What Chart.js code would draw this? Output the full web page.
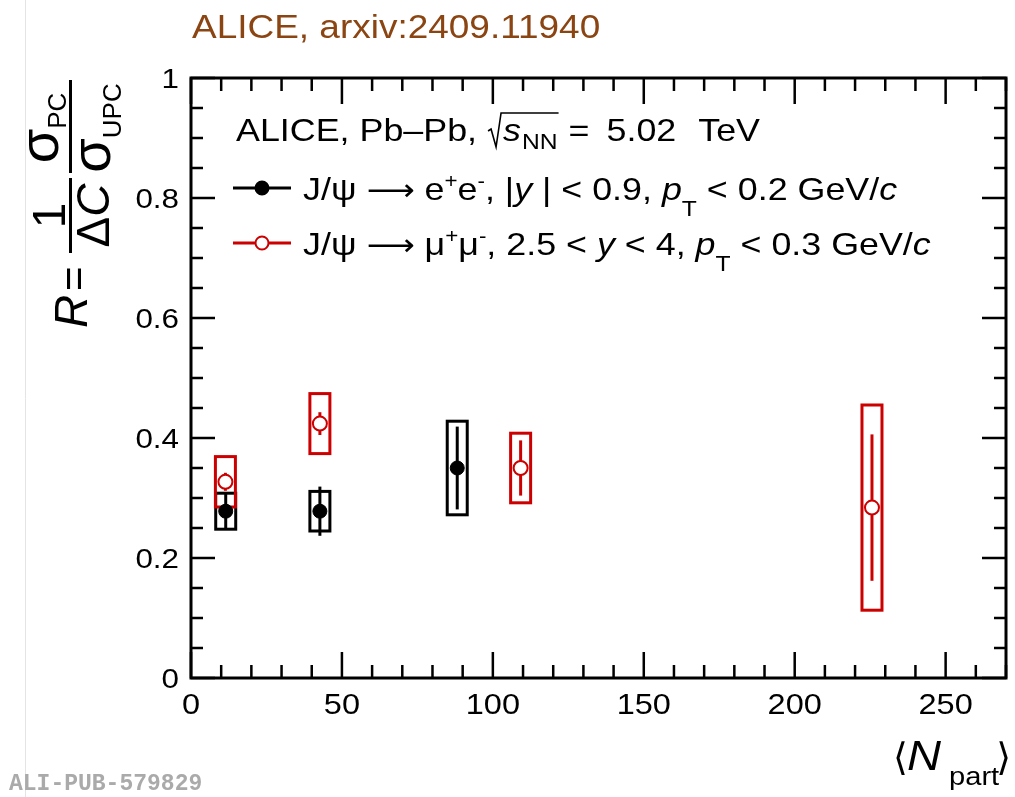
<!DOCTYPE html>
<html>
<head>
<meta charset="utf-8">
<script src="https://cdn.jsdelivr.net/npm/chart.js@4.4.1/dist/chart.umd.min.js"></script>
<style>
    html, body { margin: 0; padding: 0; background: #fff; }
    #wrap { position: relative; width: 1015px; height: 797px; }
</style>
</head>
<body>
<div id="wrap"><canvas id="chart" width="1015" height="797"></canvas></div>
<script>
// J/psi -> e+e-, |y| < 0.9
const eeNpart = [11.5, 42.7, 88.2];
const eeR = [0.278, 0.278, 0.350];
const eeStat = [0.030, 0.041, 0.069];
const eeSyst = [0.030, 0.033, 0.078];

// J/psi -> mu+mu-, 2.5 < y < 4
const mmNpart = [11.4, 42.7, 109.2, 225.6];
const mmR = [0.327, 0.424, 0.350, 0.284];
const mmStat = [0.015, 0.019, 0.046, 0.122];
const mmSyst = [0.042, 0.050, 0.058, 0.171];

// axis ticks
const xTickVals = [0, 50, 100, 150, 200, 250];
const xTickLabels = ['0', '50', '100', '150', '200', '250'];
const yTickVals = [0, 0.2, 0.4, 0.6, 0.8, 1];
const yTickLabels = ['0', '0.2', '0.4', '0.6', '0.8', '1'];

const FONT = '"Liberation Sans", Arial, Helvetica, sans-serif';
const RED = '#cc0000';
const BROWN = '#8b4513';
const SX = 1.12;   // the picture's text is a bit wider than plain Helvetica

// text with a small horizontal stretch
function sText(ctx, text, x, y, align) {
    const w = ctx.measureText(text).width * SX;
    let x0 = x;
    if (align === 'center') x0 = x - w / 2;
    if (align === 'right') x0 = x - w;
    ctx.save();
    ctx.translate(x0, y);
    ctx.scale(SX, 1);
    ctx.textAlign = 'left';
    ctx.fillText(text, 0, 0);
    ctx.restore();
    return w;
}

// draw a row of text pieces (normal / italic / sub / sup) starting at x
function drawRuns(ctx, x, y, runs) {
    let cx = x;
    runs.forEach(r => {
        ctx.font = (r.it ? 'italic ' : '') + r.size + 'px ' + (r.fam || FONT);
        cx += sText(ctx, r.t, cx, y + (r.dy || 0)) + (r.gap || 0);
    });
    return cx;
}

// text rotated by -90deg: baseline at screen x = xb, text starts at screen y = yStart and runs upward
function rotText(ctx, text, font, xb, yStart) {
    ctx.save();
    ctx.font = font;
    ctx.translate(xb, yStart);
    ctx.rotate(-Math.PI / 2);
    ctx.textAlign = 'left';
    ctx.textBaseline = 'alphabetic';
    ctx.fillText(text, 0, 0);
    ctx.restore();
}

function textWidth(ctx, text, font) {
    ctx.font = font;
    return ctx.measureText(text).width;
}

// boxes (syst.) and bars (stat.) under the markers
const errorPlugin = {
    id: 'errors',
    beforeDatasetsDraw(chart) {
        const ctx = chart.ctx;
        const xs = chart.scales.x, ys = chart.scales.y;
        const halfW = 10;
        const sets = [
            { x: eeNpart, y: eeR, stat: eeStat, syst: eeSyst, color: '#000' },
            { x: mmNpart, y: mmR, stat: mmStat, syst: mmSyst, color: RED }
        ];
        ctx.save();
        sets.forEach(s => {
            ctx.strokeStyle = s.color;
            ctx.lineWidth = 3;
            s.x.forEach((xv, i) => {
                const px = xs.getPixelForValue(xv);
                const top = ys.getPixelForValue(s.y[i] + s.syst[i]);
                const bot = ys.getPixelForValue(s.y[i] - s.syst[i]);
                ctx.strokeRect(px - halfW, top, 2 * halfW, bot - top);
                ctx.beginPath();
                ctx.moveTo(px, ys.getPixelForValue(s.y[i] + s.stat[i]));
                ctx.lineTo(px, ys.getPixelForValue(s.y[i] - s.stat[i]));
                ctx.stroke();
            });
        });
        ctx.restore();
    }
};

// ROOT-like frame, inner ticks on all sides, labels, titles and legend
const framePlugin = {
    id: 'frame',
    afterDatasetsDraw(chart) {
        const ctx = chart.ctx;
        const a = chart.chartArea;
        const xs = chart.scales.x, ys = chart.scales.y;
        ctx.save();
        ctx.strokeStyle = '#000';
        ctx.lineWidth = 3;
        ctx.strokeRect(a.left, a.top, a.right - a.left, a.bottom - a.top);

        ctx.lineWidth = 2.5;
        ctx.beginPath();
        for (let v = 0; v <= 270; v += 10) {
            const px = xs.getPixelForValue(v);
            const len = (v % 50 === 0) ? 26 : 13;
            ctx.moveTo(px, a.bottom); ctx.lineTo(px, a.bottom - len);
            ctx.moveTo(px, a.top); ctx.lineTo(px, a.top + len);
        }
        for (let k = 0; k <= 20; k++) {
            const py = ys.getPixelForValue(k * 0.05);
            const len = (k % 4 === 0) ? 24 : 12;
            ctx.moveTo(a.left, py); ctx.lineTo(a.left + len, py);
            ctx.moveTo(a.right, py); ctx.lineTo(a.right - len, py);
        }
        ctx.stroke();

        // tick labels
        ctx.fillStyle = '#000';
        ctx.textBaseline = 'alphabetic';
        ctx.font = '29px ' + FONT;
        xTickVals.forEach((v, i) => {
            sText(ctx, xTickLabels[i], xs.getPixelForValue(v), 714, 'center');
        });
        ctx.font = '28px ' + FONT;
        yTickVals.forEach((v, i) => {
            sText(ctx, yTickLabels[i], 179, ys.getPixelForValue(v) + 10, 'right');
        });
        ctx.restore();
    },
    afterDraw(chart) {
        const ctx = chart.ctx;
        ctx.save();
        ctx.textBaseline = 'alphabetic';
        ctx.textAlign = 'left';

        // faint page line and watermark
        ctx.strokeStyle = '#e4e4e4';
        ctx.lineWidth = 1;
        ctx.beginPath();
        ctx.moveTo(25.5, 0); ctx.lineTo(25.5, 797);
        ctx.stroke();
        ctx.fillStyle = '#aaaaaa';
        ctx.font = 'bold 23px "Liberation Mono", "Courier New", monospace';
        ctx.fillText('ALI-PUB-579829', 9, 790);

        // brown title
        ctx.fillStyle = BROWN;
        ctx.font = '33px ' + FONT;
        sText(ctx, 'ALICE, arxiv:2409.11940', 192, 38);

        // legend header
        ctx.fillStyle = '#000';
        const hb = 141;
        let cx = drawRuns(ctx, 236, hb, [{ t: 'ALICE, Pb\u2013Pb,', size: 32 }]);
        const sx = cx + 11;
        cx = drawRuns(ctx, sx + 15, hb, [
            { t: 's', size: 32, it: true, gap: 1 },
            { t: 'NN', size: 22, dy: 8 }
        ]);
        ctx.strokeStyle = '#000';
        ctx.lineWidth = 1.6;
        ctx.beginPath();
        ctx.moveTo(sx, hb - 10);
        ctx.lineTo(sx + 3, hb - 12);
        ctx.lineTo(sx + 8, hb + 6);
        ctx.lineTo(sx + 13, hb - 28);
        ctx.lineTo(cx + 1, hb - 28);
        ctx.stroke();
        drawRuns(ctx, cx + 11, hb, [
            { t: '=', size: 32, gap: 17 },
            { t: '5.02', size: 32, gap: 22 },
            { t: 'TeV', size: 32 }
        ]);

        // legend entries
        const ARROW_FONT = '"DejaVu Sans", ' + FONT;
        const rows = [
            { y: 188, color: '#000', fill: '#000', runs: [
                { t: 'J/\u03c8 ', size: 32 },
                { t: '\u27f6', size: 30, fam: ARROW_FONT },
                { t: ' e', size: 32 },
                { t: '+', size: 20, dy: -12 },
                { t: 'e', size: 32 },
                { t: '-', size: 20, dy: -12 },
                { t: ', |', size: 32 },
                { t: 'y', size: 32, it: true },
                { t: ' | < 0.9, ', size: 32 },
                { t: 'p', size: 32, it: true },
                { t: 'T', size: 22, dy: 16 },
                { t: ' < 0.2 GeV/', size: 32 },
                { t: 'c', size: 32, it: true }
            ] },
            { y: 243, color: RED, fill: '#fff', runs: [
                { t: 'J/\u03c8 ', size: 32 },
                { t: '\u27f6', size: 30, fam: ARROW_FONT },
                { t: ' \u03bc', size: 32 },
                { t: '+', size: 20, dy: -12 },
                { t: '\u03bc', size: 32 },
                { t: '-', size: 20, dy: -12 },
                { t: ', 2.5 < ', size: 32 },
                { t: 'y', size: 32, it: true },
                { t: ' < 4, ', size: 32 },
                { t: 'p', size: 32, it: true },
                { t: 'T', size: 22, dy: 16 },
                { t: ' < 0.3 GeV/', size: 32 },
                { t: 'c', size: 32, it: true }
            ] }
        ];
        rows.forEach(r => {
            ctx.strokeStyle = r.color;
            ctx.lineWidth = 3;
            ctx.beginPath();
            ctx.moveTo(233, r.y); ctx.lineTo(291, r.y);
            ctx.stroke();
            ctx.beginPath();
            ctx.arc(262, r.y, 6.5, 0, Math.PI * 2);
            ctx.fillStyle = r.fill;
            ctx.fill();
            ctx.lineWidth = 2;
            ctx.stroke();
            ctx.fillStyle = '#000';
            drawRuns(ctx, 303, r.y + 12, r.runs);
        });

        // x title <N_part>
        const xb = 770;
        ctx.fillStyle = '#000';
        ctx.font = '38px "DejaVu Sans", ' + FONT;
        ctx.fillText('\u27e8', 893, xb);
        drawRuns(ctx, 907, xb, [{ t: 'N', size: 42, it: true }]);
        let px = drawRuns(ctx, 949, xb + 15, [{ t: 'part', size: 26 }]);
        ctx.font = '38px "DejaVu Sans", ' + FONT;
        ctx.fillText('\u27e9', px - 3, xb);

        // y title R = 1/dC * sigma_PC/sigma_UPC (rotated)
        rotText(ctx, 'R', 'italic 46px ' + FONT, 87, 328);
        rotText(ctx, '=', '42px ' + FONT, 88, 291);
        ctx.fillRect(69, 178, 3, 75);
        ctx.fillRect(69, 80, 3, 93);
        let f = '46px ' + FONT;
        let w = textWidth(ctx, '1', f);
        rotText(ctx, '1', f, 65, 215.5 + w / 2);
        const wd = textWidth(ctx, '\u0394', f);
        const wc = textWidth(ctx, 'C', 'italic ' + f);
        rotText(ctx, '\u0394', f, 109, 215.5 + (wd + wc) / 2);
        rotText(ctx, 'C', 'italic ' + f, 109, 215.5 + (wd + wc) / 2 - wd);
        const fs = '56px ' + FONT, fsub = '26px ' + FONT;
        let ws = textWidth(ctx, '\u03c3', fs);
        let wp = textWidth(ctx, 'PC', fsub);
        let y0 = 128 + (ws + wp) / 2;
        rotText(ctx, '\u03c3', fs, 58, y0);
        rotText(ctx, 'PC', fsub, 66, y0 - ws);
        wp = textWidth(ctx, 'UPC', fsub);
        y0 = 128 + (ws + wp) / 2;
        rotText(ctx, '\u03c3', fs, 110, y0);
        rotText(ctx, 'UPC', fsub, 121, y0 - ws);

        ctx.restore();
    }
};

const ctx = document.getElementById('chart').getContext('2d');
new Chart(ctx, {
    type: 'scatter',
    data: {
        datasets: [
            {
                label: 'ee',
                data: eeNpart.map((x, i) => ({ x: x, y: eeR[i] })),
                backgroundColor: '#000',
                borderColor: '#000',
                borderWidth: 1,
                pointRadius: 7,
                pointHoverRadius: 7
            },
            {
                label: 'mumu',
                data: mmNpart.map((x, i) => ({ x: x, y: mmR[i] })),
                backgroundColor: '#fff',
                borderColor: RED,
                borderWidth: 2,
                pointRadius: 7,
                pointHoverRadius: 7
            }
        ]
    },
    options: {
        responsive: false,
        animation: false,
        layout: { padding: { left: 0, top: 78, right: 5, bottom: 0 } },
        plugins: { legend: { display: false }, tooltip: { enabled: false } },
        scales: {
            x: {
                type: 'linear', min: 0, max: 270,
                grid: { display: false, drawTicks: false },
                border: { display: false },
                afterBuildTicks: s => { s.ticks = xTickVals.map(v => ({ value: v })); },
                afterFit: s => { s.height = 119; },
                ticks: { display: false }
            },
            y: {
                type: 'linear', min: 0, max: 1,
                grid: { display: false, drawTicks: false },
                border: { display: false },
                afterBuildTicks: s => { s.ticks = yTickVals.map(v => ({ value: v })); },
                afterFit: s => { s.width = 191; },
                ticks: { display: false }
            }
        }
    },
    plugins: [errorPlugin, framePlugin]
});
</script>
</body>
</html>
